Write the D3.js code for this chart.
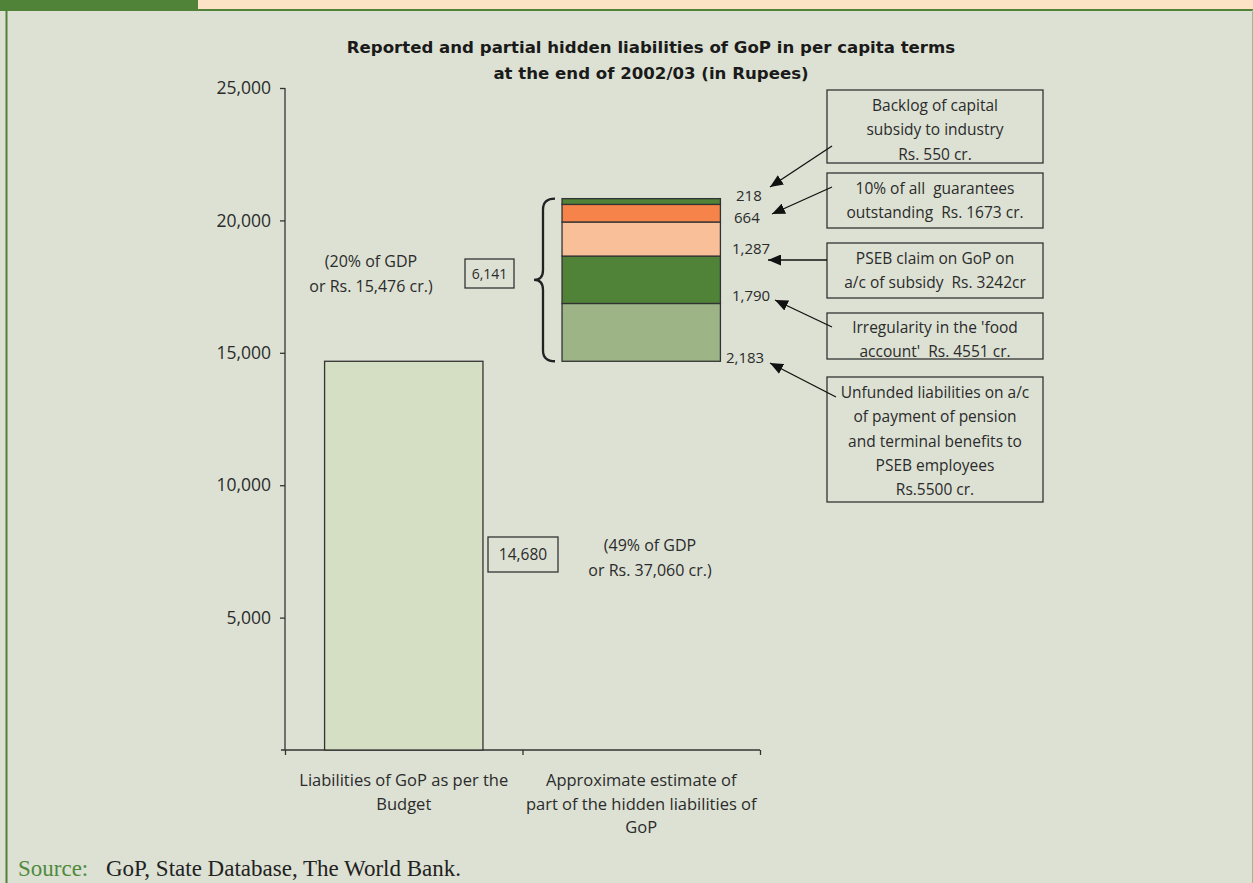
<!DOCTYPE html>
<html>
<head>
<meta charset="utf-8">
<script src="https://cdn.jsdelivr.net/npm/d3@7"></script>
<style>
  body { margin: 0; background: #dce1d3; }
  svg { display: block; }
  text { white-space: pre; }
</style>
</head>
<body>
<svg width="1253" height="883"></svg>
<script>
// data
const categories = ["Liabilities of GoP as per the Budget", "Approximate estimate of part of the hidden liabilities of GoP"];
const categoryLines = [["Liabilities of GoP as per the", "Budget"], ["Approximate estimate of", "part of the hidden liabilities of", "GoP"]];
const budgetValue = 14680;
const hiddenNames = ["Unfunded pension liabilities", "Food account", "PSEB subsidy claim", "Guarantees", "Capital subsidy backlog"];
const hiddenValues = [2183, 1790, 1287, 664, 218];
const hiddenLabels = ["2,183", "1,790", "1,287", "664", "218"];
const hiddenColors = ["#9db487", "#508237", "#f9bf98", "#f5834a", "#508237"];
const hiddenTotal = 6141;
const yTicks = [0, 5000, 10000, 15000, 20000, 25000];
const noteLines = [
    ["Unfunded liabilities on a/c", "of payment of pension", "and terminal benefits to", "PSEB employees", "Rs.5500 cr."],
    ["Irregularity in the 'food", "account'  Rs. 4551 cr."],
    ["PSEB claim on GoP on", "a/c of subsidy  Rs. 3242cr"],
    ["10% of all  guarantees", "outstanding  Rs. 1673 cr."],
    ["Backlog of capital", "subsidy to industry", "Rs. 550 cr."]
];

const svg = d3.select("svg");
const font = "'Open Sans', 'DejaVu Sans', sans-serif";
const ink = "#2b2b2b";

// frame
svg.append("rect").attr("x", 0).attr("y", 0).attr("width", 1253).attr("height", 883).attr("fill", "#dce1d3");
svg.append("rect").attr("x", 198).attr("y", 0).attr("width", 1055).attr("height", 9).attr("fill", "#fde3c5");
svg.append("rect").attr("x", 0).attr("y", 0).attr("width", 198).attr("height", 10).attr("fill", "#508237");
svg.append("line").attr("x1", 0).attr("x2", 1253).attr("y1", 10).attr("y2", 10).attr("stroke", "#508237").attr("stroke-width", 2);
svg.append("line").attr("x1", 6.5).attr("x2", 6.5).attr("y1", 10).attr("y2", 883).attr("stroke", "#508237").attr("stroke-width", 2);
svg.append("line").attr("x1", 1252.5).attr("x2", 1252.5).attr("y1", 10).attr("y2", 883).attr("stroke", "#9dba86").attr("stroke-width", 1);

// title
const titleLines = ["Reported and partial hidden liabilities of GoP in per capita terms", "at the end of 2002/03 (in Rupees)"];
svg.append("g").selectAll("text").data(titleLines).enter().append("text")
    .attr("x", 651).attr("y", (d, i) => 53 + i * 26)
    .attr("text-anchor", "middle")
    .attr("font-family", "'DejaVu Sans', sans-serif").attr("font-weight", "bold").attr("font-size", "16.6px")
    .attr("fill", "#1a1a1a")
    .text(d => d);

// scales
const y = d3.scaleLinear().domain([0, 25000]).range([750, 88]);
const x = d3.scaleBand().domain(categories).range([285, 760]).paddingInner(0.333).paddingOuter(0.1667);
const xEdge = d3.scaleLinear().domain([0, 2]).range([285, 760]);

// y axis
const yAxis = svg.append("g")
    .attr("transform", "translate(285,0)")
    .call(d3.axisLeft(y).tickValues(yTicks.slice(1)).tickSize(5).tickPadding(9).tickFormat(d3.format(",")));
yAxis.select(".domain").attr("d", "M0,750V88").attr("stroke", "#333").attr("stroke-width", 1.3);
yAxis.selectAll(".tick line").attr("stroke", "#333").attr("stroke-width", 1.3);
yAxis.selectAll("text").attr("font-family", font).attr("font-size", "17.5px").attr("fill", ink);

// x axis
const xAxis = svg.append("g")
    .attr("transform", "translate(0,750)")
    .call(d3.axisBottom(xEdge).tickValues([0, 1, 2]).tickSize(5).tickFormat(""));
xAxis.select(".domain").attr("d", "M281,0H760").attr("stroke", "#333").attr("stroke-width", 1.3);
xAxis.selectAll(".tick line").attr("stroke", "#333").attr("stroke-width", 1.3);

// category labels
categoryLines.forEach((lines, i) => {
    const cx = x(categories[i]) + x.bandwidth() / 2;
    svg.append("g").selectAll("text").data(lines).enter().append("text")
        .attr("x", cx)
        .attr("y", (d, j) => 786 + j * 23.5)
        .attr("text-anchor", "middle")
        .attr("font-family", font).attr("font-size", "16.5px").attr("fill", ink)
        .text(d => d);
});

// budget bar
svg.append("rect")
    .attr("x", x(categories[0]))
    .attr("y", y(budgetValue))
    .attr("width", x.bandwidth())
    .attr("height", y(0) - y(budgetValue))
    .attr("fill", "#d4dfc4")
    .attr("stroke", "#333").attr("stroke-width", 1.3);

// hidden liabilities stack, floating on top of the budget value
let acc = budgetValue;
const stack = hiddenValues.map((v, i) => {
    const s = {name: hiddenNames[i], label: hiddenLabels[i], y0: acc, y1: acc + v, color: hiddenColors[i]};
    acc += v;
    return s;
});
svg.append("g").selectAll("rect").data(stack).enter().append("rect")
    .attr("x", x(categories[1]))
    .attr("y", d => y(d.y1))
    .attr("width", x.bandwidth())
    .attr("height", d => y(d.y0) - y(d.y1))
    .attr("fill", d => d.color)
    .attr("stroke", "#333").attr("stroke-width", 1.3);

// segment value labels
const labelX = [726, 732, 732, 734, 736];
const labelDy = [2, -2.5, -2, 1.5, -3];
svg.append("g").selectAll("text").data(stack).enter().append("text")
    .attr("x", (d, i) => labelX[i])
    .attr("y", (d, i) => y(d.y0) + labelDy[i])
    .attr("font-family", font).attr("font-size", "15px").attr("fill", ink)
    .text(d => d.label);

// brace
const bTop = y(budgetValue + hiddenTotal), bBot = y(budgetValue), bMid = (bTop + bBot) / 2;
svg.append("path")
    .attr("d", `M555,${bTop} Q543,${bTop} 543,${bTop + 11} L543,${bMid - 10} Q543,${bMid} 534,${bMid} Q543,${bMid} 543,${bMid + 10} L543,${bBot - 11} Q543,${bBot} 555,${bBot}`)
    .attr("fill", "none").attr("stroke", "#222").attr("stroke-width", 2.3);

// value boxes
function valueBox(cx, cy, w, h, txt, size) {
    svg.append("rect").attr("x", cx - w / 2).attr("y", cy - h / 2).attr("width", w).attr("height", h)
        .attr("fill", "none").attr("stroke", "#333").attr("stroke-width", 1.3);
    svg.append("text").attr("x", cx).attr("y", cy + size * 0.36)
        .attr("text-anchor", "middle")
        .attr("font-family", font).attr("font-size", size + "px").attr("fill", ink)
        .text(txt);
}
valueBox(489.5, 273.5, 49, 29, d3.format(",")(hiddenTotal), 14);
valueBox(523, 554.5, 70, 35, d3.format(",")(budgetValue), 15.5);

function twoLines(cx, cy, lines) {
    svg.append("g").selectAll("text").data(lines).enter().append("text")
        .attr("x", cx).attr("y", (d, i) => cy + i * 25)
        .attr("text-anchor", "middle")
        .attr("font-family", font).attr("font-size", "16px").attr("fill", ink)
        .text(d => d);
}
twoLines(371, 267, ["(20% of GDP", "or Rs. 15,476 cr.)"]);
twoLines(650, 551, ["(49% of GDP", "or Rs. 37,060 cr.)"]);

// annotation boxes with arrows (order matches the stack, bottom to top)
const noteBoxes = [
    {top: 377, bottom: 502, first: 398, tail: [836, 397], tip: [770, 363]},
    {top: 313, bottom: 359, first: 333, tail: [832, 327], tip: [775, 300]},
    {top: 243, bottom: 298, first: 264, tail: [827, 260], tip: [768, 260]},
    {top: 173, bottom: 228, first: 194, tail: [832, 187], tip: [772, 214]},
    {top: 90, bottom: 163, first: 111, tail: [832, 146], tip: [770, 187]}
];

svg.append("defs").append("marker")
    .attr("id", "head")
    .attr("viewBox", "0 0 10 10")
    .attr("refX", 10).attr("refY", 5)
    .attr("markerWidth", 13).attr("markerHeight", 11)
    .attr("markerUnits", "userSpaceOnUse")
    .attr("orient", "auto")
    .attr("preserveAspectRatio", "none")
    .append("path").attr("d", "M0,0 L10,5 L0,10 Z").attr("fill", "#111");

noteBoxes.forEach((b, i) => {
    svg.append("rect").attr("x", 827).attr("y", b.top).attr("width", 216).attr("height", b.bottom - b.top)
        .attr("fill", "none").attr("stroke", "#333").attr("stroke-width", 1.3);
    svg.append("g").selectAll("text").data(noteLines[i]).enter().append("text")
        .attr("x", 935)
        .attr("y", (d, j) => b.first + j * 24.3)
        .attr("text-anchor", "middle")
        .attr("font-family", font).attr("font-size", "15.5px").attr("fill", ink)
        .text(d => d);
    svg.append("line")
        .attr("x1", b.tail[0]).attr("y1", b.tail[1])
        .attr("x2", b.tip[0]).attr("y2", b.tip[1])
        .attr("stroke", "#111").attr("stroke-width", 1.3)
        .attr("marker-end", "url(#head)");
});

// source
svg.append("text")
    .attr("x", 18).attr("y", 876)
    .attr("font-family", "'Liberation Serif', serif").attr("font-size", "23px").attr("fill", "#4f8a3c")
    .text("Source:");
svg.append("text")
    .attr("x", 106).attr("y", 876)
    .attr("font-family", "'Liberation Serif', serif").attr("font-size", "23px").attr("fill", "#222")
    .text("GoP, State Database, The World Bank.");
</script>
</body>
</html>
